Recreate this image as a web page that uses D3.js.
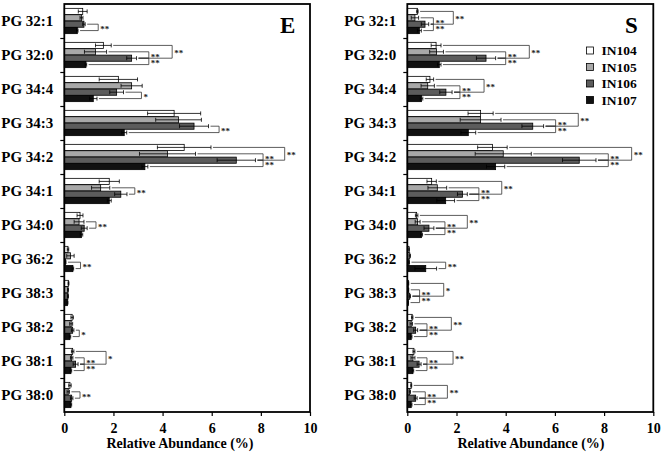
<!DOCTYPE html>
<html>
<head>
<meta charset="utf-8">
<script src="https://cdn.jsdelivr.net/npm/d3@7"></script>
<style>
  body { margin: 0; background: #fff; }
  svg text { font-family: "Liberation Serif", "Times New Roman", serif; font-weight: bold; }
</style>
</head>
<body>
<svg id="chart" width="664" height="457"></svg>
<script>
const categories = ['PG 32:1', 'PG 32:0', 'PG 34:4', 'PG 34:3', 'PG 34:2', 'PG 34:1',
    'PG 34:0', 'PG 36:2', 'PG 38:3', 'PG 38:2', 'PG 38:1', 'PG 38:0'];
const seriesNames = ['IN104', 'IN105', 'IN106', 'IN107'];
const xTicks = [0, 2, 4, 6, 8, 10];

// mean values, one row per category: IN104, IN105, IN106, IN107
const meanE = [
    [0.75, 0.70, 0.80, 0.53],
    [1.59, 1.27, 2.74, 0.88],
    [2.20, 2.74, 2.13, 1.18],
    [4.47, 4.65, 5.28, 2.44],
    [4.88, 4.20, 7.00, 3.28],
    [1.83, 1.48, 2.30, 1.83],
    [0.64, 0.60, 0.81, 0.70],
    [0.15, 0.25, 0.05, 0.35],
    [0.17, 0.15, 0.15, 0.13],
    [0.32, 0.28, 0.34, 0.23],
    [0.34, 0.30, 0.46, 0.27],
    [0.23, 0.16, 0.30, 0.27]
];
const sdE = [
    [0.18, 0.06, 0.05, 0.03],
    [0.32, 0.45, 0.20, 0.03],
    [0.78, 0.43, 0.28, 0.15],
    [1.08, 0.93, 0.59, 0.10],
    [1.09, 1.14, 0.78, 0.12],
    [0.41, 0.37, 0.25, 0.08],
    [0.12, 0.20, 0.12, 0.05],
    [0.03, 0.15, 0.02, 0.03],
    [0.02, 0.02, 0.02, 0.02],
    [0.05, 0.06, 0.05, 0.03],
    [0.05, 0.05, 0.10, 0.03],
    [0.05, 0.05, 0.05, 0.03]
];
const meanS = [
    [0.41, 0.31, 0.72, 0.49],
    [1.17, 1.19, 3.20, 1.30],
    [0.92, 0.83, 1.57, 0.58],
    [2.98, 2.98, 5.10, 2.48],
    [3.46, 3.90, 6.99, 3.59],
    [0.99, 1.22, 2.24, 1.56],
    [0.38, 0.42, 0.88, 0.58],
    [0.07, 0.10, 0.07, 0.75],
    [0.05, 0.05, 0.10, 0.04],
    [0.20, 0.16, 0.34, 0.16],
    [0.27, 0.23, 0.48, 0.23],
    [0.16, 0.10, 0.34, 0.16]
];
const sdS = [
    [0.03, 0.15, 0.15, 0.08],
    [0.20, 0.28, 0.39, 0.07],
    [0.15, 0.27, 0.25, 0.05],
    [0.51, 0.83, 0.44, 0.30],
    [0.60, 1.14, 0.68, 0.37],
    [0.19, 0.38, 0.20, 0.36],
    [0.05, 0.10, 0.20, 0.04],
    [0.01, 0.03, 0.02, 0.44],
    [0.01, 0.01, 0.03, 0.01],
    [0.03, 0.05, 0.08, 0.03],
    [0.04, 0.08, 0.08, 0.03],
    [0.02, 0.03, 0.06, 0.03]
];

// significance brackets: [category, first series, second series, bracket value, label]
const bracketsE = [
    ['PG 32:1', 'IN106', 'IN107', 1.38, '**'],
    ['PG 32:0', 'IN104', 'IN106', 4.39, '**'],
    ['PG 32:0', 'IN105', 'IN106', 3.44, '**'],
    ['PG 32:0', 'IN106', 'IN107', 3.44, '**'],
    ['PG 34:4', 'IN106', 'IN107', 3.14, '*'],
    ['PG 34:3', 'IN106', 'IN107', 6.30, '**'],
    ['PG 34:2', 'IN104', 'IN106', 8.97, '**'],
    ['PG 34:2', 'IN105', 'IN106', 8.09, '**'],
    ['PG 34:2', 'IN106', 'IN107', 8.09, '**'],
    ['PG 34:1', 'IN105', 'IN106', 2.87, '**'],
    ['PG 34:0', 'IN105', 'IN106', 1.29, '**'],
    ['PG 36:2', 'IN106', 'IN107', 0.66, '**'],
    ['PG 38:2', 'IN106', 'IN107', 0.61, '*'],
    ['PG 38:1', 'IN104', 'IN106', 1.70, '*'],
    ['PG 38:1', 'IN105', 'IN106', 0.81, '**'],
    ['PG 38:1', 'IN106', 'IN107', 0.81, '**'],
    ['PG 38:0', 'IN105', 'IN106', 0.64, '**']
];
const bracketsS = [
    ['PG 32:1', 'IN104', 'IN106', 1.87, '**'],
    ['PG 32:1', 'IN105', 'IN106', 1.06, '**'],
    ['PG 32:1', 'IN106', 'IN107', 1.06, '**'],
    ['PG 32:0', 'IN104', 'IN106', 4.96, '**'],
    ['PG 32:0', 'IN105', 'IN106', 4.00, '**'],
    ['PG 32:0', 'IN106', 'IN107', 4.00, '**'],
    ['PG 34:4', 'IN104', 'IN106', 3.12, '**'],
    ['PG 34:4', 'IN105', 'IN106', 2.14, '**'],
    ['PG 34:4', 'IN106', 'IN107', 2.14, '**'],
    ['PG 34:3', 'IN104', 'IN106', 6.95, '**'],
    ['PG 34:3', 'IN105', 'IN106', 6.03, '**'],
    ['PG 34:3', 'IN106', 'IN107', 6.03, '**'],
    ['PG 34:2', 'IN104', 'IN106', 9.12, '**'],
    ['PG 34:2', 'IN105', 'IN106', 8.17, '**'],
    ['PG 34:2', 'IN106', 'IN107', 8.17, '**'],
    ['PG 34:1', 'IN104', 'IN106', 3.84, '**'],
    ['PG 34:1', 'IN105', 'IN106', 2.91, '**'],
    ['PG 34:1', 'IN106', 'IN107', 2.91, '**'],
    ['PG 34:0', 'IN104', 'IN106', 2.44, '**'],
    ['PG 34:0', 'IN105', 'IN106', 1.53, '**'],
    ['PG 34:0', 'IN106', 'IN107', 1.53, '**'],
    ['PG 36:2', 'IN106', 'IN107', 1.56, '**'],
    ['PG 38:3', 'IN104', 'IN106', 1.48, '*'],
    ['PG 38:3', 'IN105', 'IN106', 0.50, '**'],
    ['PG 38:3', 'IN106', 'IN107', 0.50, '**'],
    ['PG 38:2', 'IN104', 'IN106', 1.79, '**'],
    ['PG 38:2', 'IN105', 'IN106', 0.80, '**'],
    ['PG 38:2', 'IN106', 'IN107', 0.80, '**'],
    ['PG 38:1', 'IN104', 'IN106', 1.86, '**'],
    ['PG 38:1', 'IN105', 'IN106', 0.80, '**'],
    ['PG 38:1', 'IN106', 'IN107', 0.80, '**'],
    ['PG 38:0', 'IN104', 'IN106', 1.63, '**'],
    ['PG 38:0', 'IN105', 'IN106', 0.73, '**'],
    ['PG 38:0', 'IN106', 'IN107', 0.73, '**']
];

const svg = d3.select('#chart');
const plotTop = 4, plotBottom = 412;

const color = d3.scaleOrdinal()
    .domain(seriesNames)
    .range(['#ffffff', '#a8a8a8', '#5c5c5c', '#111111']);

const y = d3.scaleBand().domain(categories).range([plotTop, plotBottom]).padding(0);
const yIn = d3.scaleBand().domain(seriesNames)
    .range([0, y.bandwidth()]).paddingInner(0.04).paddingOuter(0.68);
const rowY = (cat, s) => y(cat) + yIn(s) + yIn.bandwidth() / 2;

function drawPanel(opts) {
    const { x0, x1, means, sds, brackets, title, titleX, axisTitleX } = opts;
    const x = d3.scaleLinear().domain([0, 10]).range([x0, x1]);
    const g = svg.append('g');

    // category ticks between groups
    const yIdx = d3.scaleLinear().domain([0, categories.length]).range([plotTop, plotBottom]);
    g.append('g')
        .attr('transform', `translate(${x0},0)`)
        .call(d3.axisLeft(yIdx).tickValues(d3.range(1, categories.length)).tickSize(4).tickFormat(''))
        .call(a => a.select('.domain').remove())
        .selectAll('line').attr('stroke', '#000').attr('stroke-width', 1.2);

    // category labels
    g.selectAll('.cat')
        .data(categories)
        .join('text')
        .attr('class', 'cat')
        .attr('x', x0 - 11)
        .attr('y', d => y(d) + y.bandwidth() / 2)
        .attr('dy', '0.35em')
        .attr('text-anchor', 'end')
        .style('font-size', '15px')
        .text(d => d);

    // bars
    const rows = [];
    categories.forEach((c, i) => seriesNames.forEach((s, j) => {
        rows.push({ cat: c, s, m: means[i][j], sd: sds[i][j] });
    }));

    g.selectAll('.bar')
        .data(rows)
        .join('rect')
        .attr('class', 'bar')
        .attr('x', x(0))
        .attr('y', d => y(d.cat) + yIn(d.s))
        .attr('width', d => x(d.m) - x(0))
        .attr('height', yIn.bandwidth())
        .attr('fill', d => color(d.s))
        .attr('stroke', '#000')
        .attr('stroke-width', 0.8);

    // error bars
    const eb = g.selectAll('.err').data(rows).join('g').attr('class', 'err')
        .attr('stroke', '#000').attr('stroke-width', 0.8);
    eb.append('line')
        .attr('x1', d => x(Math.max(0, d.m - d.sd)))
        .attr('x2', d => x(d.m + d.sd))
        .attr('y1', d => rowY(d.cat, d.s))
        .attr('y2', d => rowY(d.cat, d.s));
    [d => Math.max(0, d.m - d.sd), d => d.m + d.sd].forEach(f => {
        eb.append('line')
            .attr('x1', d => x(f(d))).attr('x2', d => x(f(d)))
            .attr('y1', d => rowY(d.cat, d.s) - 2)
            .attr('y2', d => rowY(d.cat, d.s) + 2);
    });

    // significance brackets
    const endOf = (cat, s) => {
        const i = categories.indexOf(cat), j = seriesNames.indexOf(s);
        return x(means[i][j] + sds[i][j]) + 2;
    };
    const br = g.selectAll('.br').data(brackets).join('g').attr('class', 'br');
    br.append('path')
        .attr('fill', 'none')
        .attr('stroke', '#333')
        .attr('stroke-width', 0.8)
        .attr('d', d => {
            const [cat, a, b, v] = d;
            const bx = x(v), ya = rowY(cat, a), yb = rowY(cat, b);
            return `M${endOf(cat, a)},${ya}H${bx}V${yb}H${endOf(cat, b)}`;
        });
    br.append('text')
        .attr('x', d => x(d[3]) + 2)
        .attr('y', d => (rowY(d[0], d[1]) + rowY(d[0], d[2])) / 2 + 4.5)
        .style('font-size', '9px')
        .attr('fill', '#222')
        .text(d => d[4]);

    // x axis
    const xa = g.append('g')
        .attr('transform', `translate(0,${plotBottom})`)
        .call(d3.axisBottom(x).tickValues(xTicks).tickSize(4).tickPadding(7));
    xa.select('.domain').remove();
    xa.selectAll('line').attr('stroke', '#000').attr('stroke-width', 1.2);
    xa.selectAll('text')
        .style('font-size', '14px')
        .style('font-family', '"Liberation Serif", "Times New Roman", serif')
        .style('font-weight', 'bold')
        .attr('fill', '#000');

    // frame
    g.append('rect')
        .attr('x', x0).attr('y', plotTop)
        .attr('width', x1 - x0).attr('height', plotBottom - plotTop)
        .attr('fill', 'none').attr('stroke', '#000').attr('stroke-width', 1.8);

    g.append('text')
        .attr('x', titleX).attr('y', 33)
        .style('font-size', '23px')
        .text(title);

    g.append('text')
        .attr('x', axisTitleX).attr('y', 448)
        .attr('text-anchor', 'middle')
        .style('font-size', '14px')
        .text('Relative Abundance (%)');

    return x;
}

drawPanel({ x0: 64.3, x1: 310, means: meanE, sds: sdE, brackets: bracketsE,
    title: 'E', titleX: 280, axisTitleX: 180 });
drawPanel({ x0: 407.3, x1: 653.3, means: meanS, sds: sdS, brackets: bracketsS,
    title: 'S', titleX: 625, axisTitleX: 531 });

// legend
const legend = svg.append('g').attr('transform', 'translate(586.5,50.5)');
seriesNames.forEach((s, i) => {
    const row = legend.append('g').attr('transform', `translate(0,${i * 16.5})`);
    row.append('rect')
        .attr('x', 0).attr('y', -3.5)
        .attr('width', 7).attr('height', 7)
        .attr('fill', color(s))
        .attr('stroke', '#000').attr('stroke-width', 0.8);
    row.append('text')
        .attr('x', 15).attr('y', 0)
        .attr('dy', '0.35em')
        .style('font-size', '13.5px')
        .text(s);
});
</script>
</body>
</html>
